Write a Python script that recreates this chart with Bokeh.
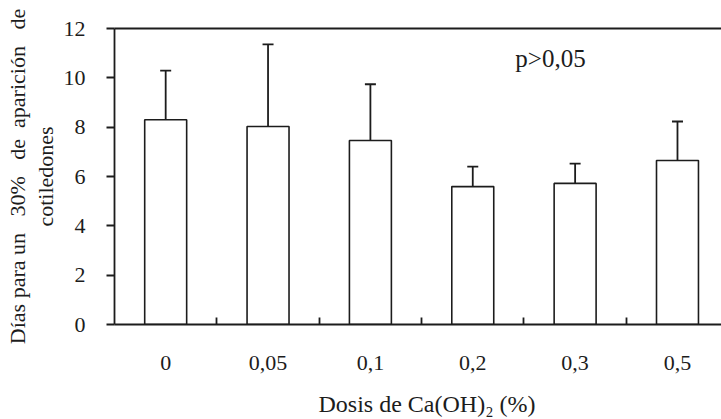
import math
from bokeh.plotting import figure
from bokeh.models import (Range1d, FixedTicker, LinearAxis, Label, Whisker,
                          TeeHead, ColumnDataSource)
from bokeh.embed import file_html
from bokeh.resources import INLINE

# ---- data ----
categories = ["0", "0,05", "0,1", "0,2", "0,3", "0,5"]
means = [8.30, 8.03, 7.46, 5.59, 5.72, 6.65]
upper = [10.29, 11.36, 9.74, 6.40, 6.52, 8.23]
lower = [6.21, 4.71, 5.16, 4.75, 4.75, 4.95]
y_ticks = [0, 2, 4, 6, 8, 10, 12]
annotation = "p>0,05"
x_title = "Dosis de Ca(OH)\u2082 (%)"
NB = "\u00a0"
y_title_1 = "Días para" + NB + "un" + NB * 2 + " 30%" + NB * 2 + " de" + NB + " aparición" + NB * 2 + " de"
y_title_2 = "cotiledones"

FONT = "Liberation Serif"
INK = "#1c1c1c"

xs = [i + 0.5 for i in range(len(categories))]
src = ColumnDataSource(dict(x=xs, top=means, upper=upper, lower=lower))

p = figure(width=721, height=419, output_backend="svg", toolbar_location=None,
           x_range=Range1d(0, 5.93), y_range=Range1d(0, 12),
           min_border_left=114, min_border_right=0, min_border_top=28,
           min_border_bottom=95, background_fill_color="white",
           border_fill_color="white")
p.outline_line_color = None
p.xgrid.visible = False
p.ygrid.visible = False
p.xaxis.visible = False
p.yaxis.visible = False

# bars
p.vbar(x="x", top="top", bottom=0, width=0.41, source=src,
       fill_color="white", line_color=INK, line_width=1.6)

# error bars
w = Whisker(source=src, base="x", upper="upper", lower="lower",
            line_color=INK, line_width=1.8,
            upper_head=TeeHead(size=11, line_color=INK, line_width=1.8),
            lower_head=TeeHead(size=11, line_color=INK, line_width=1.8))
p.add_layout(w)

# bottom axis: labels at centres, short inward ticks at boundaries
xb = LinearAxis(ticker=FixedTicker(ticks=xs, minor_ticks=[1, 2, 3, 4, 5]))
xb.major_label_overrides = {x: c for x, c in zip(xs, categories)}
xb.major_tick_in = 0
xb.major_tick_out = 0
xb.minor_tick_in = 7
xb.minor_tick_out = 0
xb.minor_tick_line_color = INK
xb.minor_tick_line_width = 1.8
xb.axis_line_color = INK
xb.axis_line_width = 1.8
xb.major_label_standoff = 31
xb.major_label_text_font = FONT
xb.major_label_text_font_size = "22px"
xb.major_label_text_color = INK
xb.axis_label = NB * 3 + x_title
xb.axis_label_standoff = 18
xb.axis_label_text_font = FONT
xb.axis_label_text_font_size = "24px"
xb.axis_label_text_font_style = "normal"
xb.axis_label_text_color = INK
p.add_layout(xb, "below")

# top line
xt = LinearAxis(ticker=FixedTicker(ticks=[]))
xt.major_tick_line_color = None
xt.minor_tick_line_color = None
xt.major_label_text_font_size = "0px"
xt.axis_line_color = INK
xt.axis_line_width = 1.8
p.add_layout(xt, "above")

# left axis (second line of its title)
yl = LinearAxis(ticker=FixedTicker(ticks=y_ticks))
yl.major_tick_in = 0
yl.major_tick_out = 8
yl.major_tick_line_color = INK
yl.major_tick_line_width = 1.8
yl.minor_tick_line_color = None
yl.axis_line_color = INK
yl.axis_line_width = 1.8
yl.major_label_standoff = 21
yl.major_label_text_font = FONT
yl.major_label_text_font_size = "22px"
yl.major_label_text_color = INK
yl.axis_label = y_title_2
yl.axis_label_standoff = 3
yl.axis_label_text_font = FONT
yl.axis_label_text_font_size = "22px"
yl.axis_label_text_font_style = "normal"
yl.axis_label_text_color = INK
p.add_layout(yl, "left")

# invisible axis carrying the first line of the title
yl2 = LinearAxis(ticker=FixedTicker(ticks=[]))
yl2.axis_line_color = None
yl2.major_tick_line_color = None
yl2.minor_tick_line_color = None
yl2.major_tick_in = 0
yl2.major_tick_out = 0
yl2.minor_tick_in = 0
yl2.minor_tick_out = 0
yl2.major_label_standoff = 0
yl2.major_label_text_font_size = "0px"
yl2.axis_label = y_title_1
yl2.axis_label_standoff = 0
yl2.axis_label_text_font = FONT
yl2.axis_label_text_font_size = "22px"
yl2.axis_label_text_font_style = "normal"
yl2.axis_label_text_color = INK
p.add_layout(yl2, "left")

# annotation inside the frame
p.add_layout(Label(x=3.916, y=10.79, text=annotation, text_font=FONT,
                   text_font_size="25px", text_color=INK,
                   text_align="left", text_baseline="middle"))

open("out.html", "w").write(file_html(p, INLINE))
